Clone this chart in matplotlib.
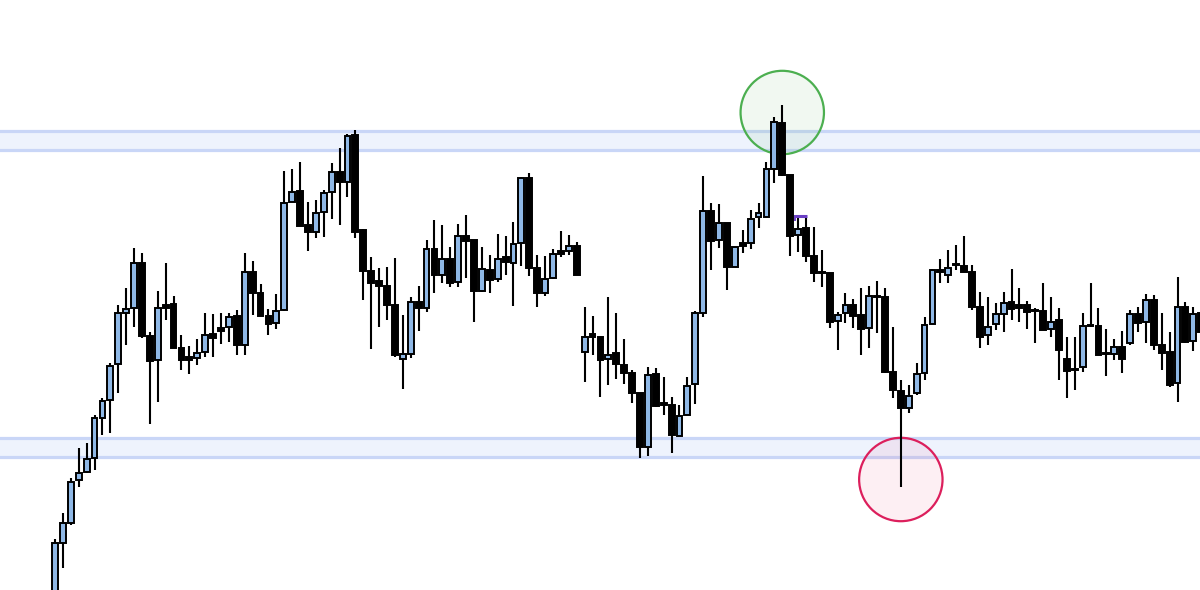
import numpy as np
import matplotlib.pyplot as plt
from matplotlib.patches import Ellipse

# OHLC (arbitrary price units)
opens = [-15, 57, 77, 120, 128, 142, 182, 200, 236, 287,
         292, 337, 264, 240, 295, 296, 252, 243, 242, 248,
         266, 272, 273, 284, 255, 328, 307, 284, 277, 290,
         398, 409, 375, 368, 388, 408, 428, 418, 465, 370,
         329, 319, 314, 295, 241, 246, 298, 292, 351, 325,
         341, 318, 364, 360, 309, 330, 321, 343, 337, 357,
         422, 332, 307, 322, 349, 349, 354, 248, 266, 263,
         241, 247, 235, 227, 207, 153, 226, 197, 195, 164,
         185, 216, 287, 389, 360, 377, 333, 357, 357, 383,
         383, 431, 477, 425, 365, 372, 344, 328, 327, 279,
         287, 295, 285, 272, 304, 303, 228, 209, 192, 207,
         227, 276, 330, 325, 336, 334, 328, 293, 265, 276,
         286, 298, 295, 295, 290, 289, 271, 280, 241, 231,
         233, 275, 274, 247, 246, 253, 257, 286, 278, 300,
         255, 248, 217, 293, 259, 287]
highs = [61, 87, 122, 152, 157, 185, 202, 237, 295, 312,
         352, 347, 268, 309, 337, 304, 265, 254, 261, 287,
         286, 287, 287, 290, 347, 339, 316, 291, 306, 429,
         431, 438, 398, 400, 410, 437, 452, 466, 470, 371,
         343, 332, 333, 342, 285, 303, 314, 360, 380, 375,
         353, 376, 385, 360, 353, 345, 366, 364, 378, 423,
         427, 345, 344, 351, 369, 365, 358, 293, 284, 263,
         303, 287, 261, 230, 207, 233, 232, 223, 203, 195,
         223, 289, 424, 397, 396, 377, 353, 370, 390, 397,
         438, 483, 495, 425, 383, 383, 373, 350, 327, 288,
         307, 301, 312, 314, 319, 312, 273, 220, 215, 237,
         283, 331, 341, 350, 355, 364, 335, 308, 303, 297,
         308, 331, 312, 299, 292, 317, 303, 292, 263, 263,
         287, 317, 292, 271, 261, 269, 290, 293, 306, 305,
         287, 268, 323, 298, 293, 295]
lows = [-15, 32, 75, 113, 127, 130, 165, 167, 207, 255,
        273, 262, 176, 198, 280, 252, 230, 226, 235, 243,
        243, 256, 258, 245, 245, 285, 284, 265, 271, 289,
        398, 374, 349, 362, 363, 381, 375, 403, 362, 300,
        251, 273, 280, 243, 211, 242, 269, 288, 307, 317,
        313, 313, 322, 278, 308, 307, 318, 325, 294, 334,
        324, 293, 304, 321, 343, 345, 325, 218, 245, 203,
        215, 221, 216, 197, 142, 144, 193, 185, 147, 164,
        185, 196, 283, 330, 352, 310, 333, 347, 351, 372,
        383, 417, 424, 344, 348, 338, 318, 313, 272, 250,
        277, 272, 245, 252, 267, 227, 202, 113, 187, 205,
        220, 276, 317, 317, 330, 328, 290, 252, 255, 270,
        268, 280, 278, 271, 257, 270, 263, 220, 202, 210,
        228, 273, 245, 224, 240, 227, 255, 268, 257, 250,
        230, 213, 198, 257, 249, 260]
closes = [57, 77, 118, 127, 141, 182, 199, 234, 287, 291,
          337, 264, 239, 292, 292, 252, 240, 240, 247, 265,
          262, 269, 283, 255, 328, 307, 284, 276, 289, 397,
          408, 374, 368, 387, 407, 428, 418, 464, 368, 329,
          317, 314, 295, 245, 246, 298, 292, 351, 325, 341,
          317, 364, 359, 309, 331, 320, 341, 338, 356, 422,
          332, 307, 321, 346, 346, 354, 325, 263, 263, 240,
          245, 236, 227, 207, 153, 225, 194, 195, 165, 184,
          214, 287, 389, 359, 377, 333, 353, 354, 381, 387,
          431, 478, 425, 364, 371, 344, 327, 327, 278, 285,
          295, 284, 271, 304, 303, 228, 210, 192, 204, 226,
          275, 330, 328, 332, 335, 328, 293, 263, 273, 286,
          297, 291, 292, 288, 289, 270, 278, 250, 229, 230,
          274, 274, 245, 246, 253, 241, 286, 277, 300, 255,
          247, 215, 293, 258, 286, 268]

# horizontal zones (bottom, top)
resistance = (450.5, 469.5)
support = (143.5, 162.5)

# marked swing high / swing low
swing_high = (92, 487.5)
swing_low = (107, 120.5)

bull_color = '#8fb8e6'
bear_color = '#000000'

fig = plt.figure(figsize=(12, 5.9), dpi=100)
ax = fig.add_axes([0, 0, 1, 1])

x = np.arange(len(opens))
o = np.array(opens)
h = np.array(highs)
l = np.array(lows)
c = np.array(closes)

# zones
for lo, hi in (resistance, support):
    ax.axhspan(lo, hi, color='#eef3fd', zorder=1, lw=0)
    ax.axhline(lo, color='#c9d6f7', lw=2.3, zorder=1)
    ax.axhline(hi, color='#c9d6f7', lw=2.3, zorder=1)

# circles (pixels are not square in data units -> ellipses)
w = 2 * 41.7 / 7.905
ax.add_patch(Ellipse(swing_high, w, 83.4, facecolor=(0.30, 0.69, 0.31, 0.08),
                     edgecolor='#4caf50', lw=1.6, zorder=2))
ax.add_patch(Ellipse(swing_low, w, 83.4, facecolor=(0.91, 0.12, 0.39, 0.07),
                     edgecolor='#dc1f5c', lw=1.6, zorder=2))

# candles
ax.vlines(x, l, h, color='black', lw=1.5, zorder=3)
up = c >= o
colors = np.where(up, bull_color, bear_color)
bottoms = np.minimum(o, c)
heights = np.maximum(np.abs(c - o), 0.8)
ax.bar(x, heights, bottom=bottoms, width=0.74, color=colors,
       edgecolor='black', linewidth=1.4, zorder=4)

# small purple marker near the lower high
ax.plot([93.6, 95.1], [384.5, 384.5], color='#6a3fc4', lw=2.2, zorder=5,
        solid_capstyle='butt')
ax.plot([93.6, 93.6], [384.5, 380], color='#6a3fc4', lw=1.4, zorder=5)

ax.set_xlim(-55 / 7.905, (1200 - 55) / 7.905)
ax.set_ylim(10, 600)
ax.axis('off')

fig.savefig('out.png', dpi=100, facecolor='white')
